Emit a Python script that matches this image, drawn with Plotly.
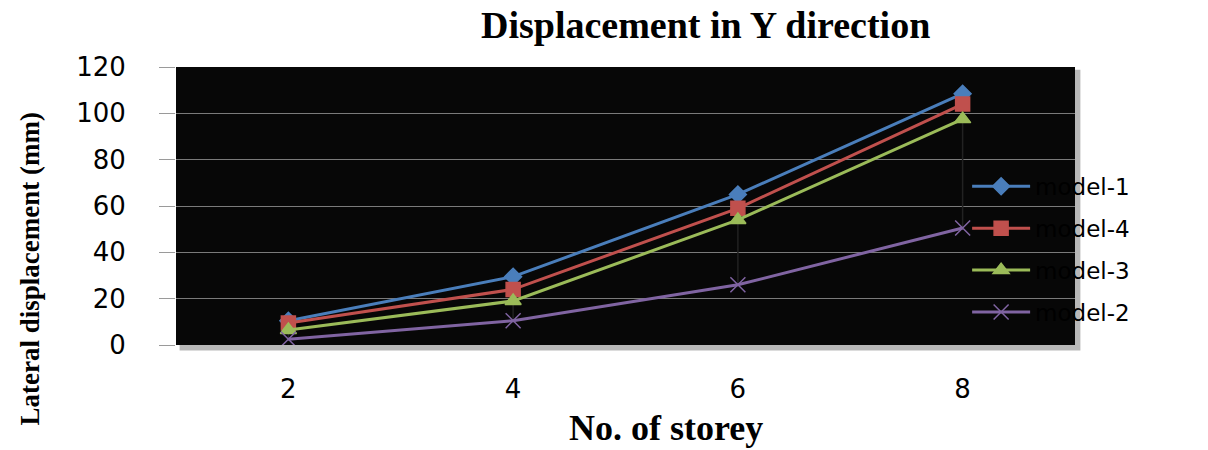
import plotly.graph_objects as go

# Storey counts and lateral displacement (mm) for each model
storeys = [2, 4, 6, 8]
model_1 = [10.5, 29.5, 65, 108.5]
model_4 = [9.5, 24, 59, 104]
model_3 = [6.5, 19, 54, 97.5]
model_2 = [2.5, 10.5, 26, 50.5]

series = [
    ("model-1", model_1, "#4A7EBB", "diamond", 13),
    ("model-4", model_4, "#C0504D", "square", 14),
    ("model-3", model_3, "#9BBB59", "triangle-up", 14),
    ("model-2", model_2, "#8064A2", "x-thin-open", 15),
]

fig = go.Figure()

# High-low lines joining the largest and smallest value at each storey
all_vals = [model_1, model_4, model_3, model_2]
hl_x, hl_y = [], []
for i, s in enumerate(storeys):
    col = [v[i] for v in all_vals]
    hl_x += [s, s, None]
    hl_y += [max(col), min(col), None]
fig.add_trace(go.Scatter(x=hl_x, y=hl_y, mode="lines",
                         line=dict(color="#222222", width=1.5),
                         showlegend=False, hoverinfo="skip"))

for name, vals, color, symbol, size in series:
    fig.add_trace(go.Scatter(
        x=storeys, y=vals, name=name, mode="lines+markers",
        legendgroup=name,
        line=dict(color=color, width=3),
        marker=dict(symbol=symbol, size=size, color=color,
                    line=dict(color=color, width=1.5)),
    ))

fig.update_layout(
    width=1208, height=450,
    margin=dict(l=176, r=133, t=67, b=105),
    paper_bgcolor="white",
    plot_bgcolor="rgba(0,0,0,0)",
    showlegend=True,
    legend=dict(
        x=0.88, y=0.648, xanchor="left", yanchor="top",
        bgcolor="rgba(0,0,0,0)",
        font=dict(family="DejaVu Sans", size=23, color="black"),
        tracegroupgap=9,
        itemwidth=58,
    ),
    shapes=[
        # soft drop shadow of the plot panel
        dict(type="rect", xref="paper", yref="paper",
             x0=0.004, x1=1.006, y0=-0.02, y1=0.99,
             fillcolor="rgba(0,0,0,0.28)", line=dict(width=0), layer="below"),
        # black plot panel
        dict(type="rect", xref="paper", yref="paper",
             x0=0, x1=1, y0=0, y1=1,
             fillcolor="#070707", line=dict(width=0), layer="below"),
    ],
    annotations=[
        dict(text="<b>Displacement in Y direction</b>", xref="paper", yref="paper",
             x=0.589, y=1.152, xanchor="center", yanchor="middle", showarrow=False,
             font=dict(family="Liberation Serif", size=38, color="black")),
        dict(text="<b>No. of storey</b>", xref="paper", yref="paper",
             x=0.545, y=-0.298, xanchor="center", yanchor="middle", showarrow=False,
             font=dict(family="Liberation Serif", size=36, color="black")),
        dict(text="<b>Lateral displacement (mm)</b>", xref="paper", yref="paper",
             x=-0.162, y=0.273, xanchor="center", yanchor="middle", showarrow=False,
             textangle=-90,
             font=dict(family="Liberation Serif", size=27, color="black")),
    ],
)

fig.update_xaxes(
    range=[1, 9], tickvals=storeys, ticktext=[str(s) for s in storeys],
    showgrid=False, zeroline=False, showline=False, ticks="",
    tickfont=dict(family="DejaVu Sans", size=26, color="black"),
    ticklabelstandoff=26,
)
fig.update_yaxes(
    range=[0, 120], dtick=20, showgrid=True, gridcolor="#7a7a7a", gridwidth=1,
    zeroline=False, showline=False,
    ticks="outside", ticklen=16, tickcolor="#9a9a9a", tickwidth=1,
    tickfont=dict(family="DejaVu Sans", size=26, color="black"),
    ticklabelstandoff=28,
)

fig.write_html("out.html")
